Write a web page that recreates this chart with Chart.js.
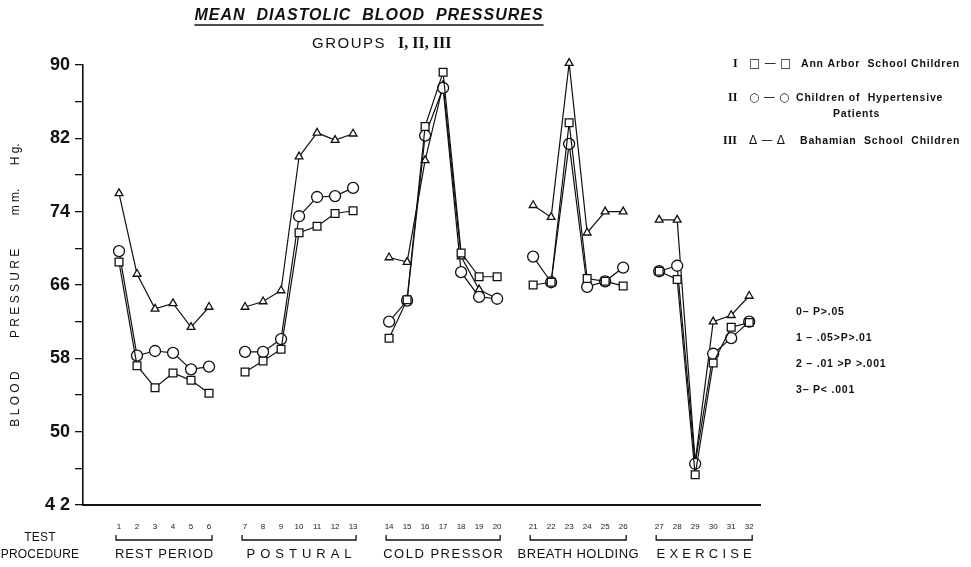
<!DOCTYPE html>
<html>
<head>
<meta charset="utf-8">
<script src="https://cdn.jsdelivr.net/npm/chart.js@4.4.1/dist/chart.umd.min.js"></script>
<style>
html,body{margin:0;padding:0;background:#fff;}
#wrap{width:971px;height:567px;position:relative;}
</style>
</head>
<body>
<div id="wrap"><canvas id="c" width="971" height="567"></canvas></div>
<script>
// ---- data ----
const groupNames = ['REST PERIOD', 'POSTURAL', 'COLD PRESSOR', 'BREATH HOLDING', 'EXERCISE'];
const groupSizes = [6, 7, 7, 6, 6];
const testLabels = ['1','2','3','4','5','6','7','8','9','10','11','12','13','14','15','16','17','18','19','20','21','22','23','24','25','26','27','28','29','30','31','32'];
const yTicks = [42, 50, 58, 66, 74, 82, 90];

const annArbor = [68.5, 57.2, 54.8, 56.4, 55.6, 54.2,
                  56.5, 57.7, 59.0, 71.7, 72.4, 73.8, 74.1,
                  60.2, 64.4, 83.3, 89.2, 69.5, 66.9, 66.9,
                  66.0, 66.3, 83.7, 66.7, 66.4, 65.9,
                  67.5, 66.6, 45.3, 57.5, 61.4, 61.9];
const hypertensive = [69.7, 58.3, 58.8, 58.6, 56.8, 57.1,
                      58.7, 58.7, 60.1, 73.5, 75.6, 75.7, 76.6,
                      62.0, 64.3, 82.3, 87.5, 67.4, 64.7, 64.5,
                      69.1, 66.3, 81.4, 65.8, 66.4, 67.9,
                      67.5, 68.1, 46.5, 58.5, 60.2, 62.0];
const bahamian = [76.0, 67.2, 63.4, 64.0, 61.4, 63.6,
                  63.6, 64.2, 65.4, 80.0, 82.6, 81.8, 82.5,
                  69.0, 68.5, 79.6, 87.8, 69.1, 65.5, 64.5,
                  74.7, 73.4, 90.2, 71.7, 74.0, 74.0,
                  73.1, 73.1, 46.7, 62.0, 62.7, 64.8];

// ---- build x positions (one empty slot between groups) ----
const positions = [];
const groupRanges = [];
{
  let k = 0;
  groupSizes.forEach((n, g) => {
    const start = k;
    for (let i = 0; i < n; i++) { positions.push(k + g + 1); k++; }
    groupRanges.push([positions[start], positions[k - 1]]);
  });
}
const labelAt = {};
positions.forEach((p, i) => labelAt[p] = testLabels[i]);

function series(values) {
  const out = [];
  let k = 0;
  groupSizes.forEach((n, g) => {
    for (let i = 0; i < n; i++) { out.push({x: positions[k], y: values[k]}); k++; }
    if (g < groupSizes.length - 1) out.push({x: positions[k - 1] + 1, y: null});
  });
  return out;
}

const baseDs = {
  borderColor: '#111', borderWidth: 1.2, backgroundColor: '#fff',
  pointBackgroundColor: '#fff', pointBorderColor: '#111', pointBorderWidth: 1.3,
  spanGaps: false, tension: 0, clip: false
};

const overlay = {
  id: 'overlay',
  afterDraw(chart) {
    const ctx = chart.ctx;
    const xs = chart.scales.x;
    const area = chart.chartArea;
    ctx.save();
    ctx.fillStyle = '#111';
    ctx.strokeStyle = '#111';
    ctx.textBaseline = 'alphabetic';

    // Title
    ctx.font = 'italic bold 16px "Liberation Sans", Arial, sans-serif';
    ctx.letterSpacing = '1px';
    ctx.textAlign = 'center';
    const t = 'MEAN  DIASTOLIC  BLOOD  PRESSURES';
    ctx.fillText(t, 369, 20);
    const tw = ctx.measureText(t).width;
    ctx.lineWidth = 1.3;
    ctx.beginPath(); ctx.moveTo(369 - tw / 2, 25); ctx.lineTo(369 + tw / 2, 25); ctx.stroke();
    ctx.font = '15px "Liberation Sans", Arial, sans-serif';
    ctx.letterSpacing = '1.5px';
    ctx.textAlign = 'left';
    ctx.fillText('GROUPS', 312, 48);
    ctx.font = 'bold 16px "Liberation Serif", serif';
    ctx.letterSpacing = '0px';
    ctx.fillText('I, II, III', 398, 48);

    // Legend (text)
    ctx.textAlign = 'left';
    ctx.font = 'bold 12px "Liberation Serif", serif';
    ctx.letterSpacing = '0px';
    ctx.fillText('I', 733, 67);
    ctx.fillText('II', 728, 101);
    ctx.fillText('III', 723, 144);
    ctx.font = '12px "DejaVu Sans", sans-serif';
    ctx.fillText('\u25A1 \u2014 \u25A1', 749, 67);
    ctx.fillText('\u25CB \u2014 \u25CB', 749, 101);
    ctx.fillText('\u0394 \u2014 \u0394', 749, 144);
    ctx.font = 'bold 10.5px "Liberation Sans", Arial, sans-serif';
    ctx.letterSpacing = '0.8px';
    ctx.fillText('Ann Arbor  School Children', 801, 67);
    ctx.fillText('Children of  Hypertensive', 796, 101);
    ctx.fillText('Patients', 833, 117);
    ctx.fillText('Bahamian  School  Children', 800, 144);

    // P-value key
    ctx.font = 'bold 10.5px "Liberation Sans", Arial, sans-serif';
    ctx.letterSpacing = '0.8px';
    ctx.fillText('0\u2013 P>.05', 796, 315);
    ctx.fillText('1 \u2013 .05>P>.01', 796, 341);
    ctx.fillText('2 \u2013 .01 >P >.001', 796, 367);
    ctx.fillText('3\u2013 P< .001', 796, 393);

    // Test procedure labels
    ctx.font = '12px "Liberation Sans", Arial, sans-serif';
    ctx.letterSpacing = '0.2px';
    ctx.textAlign = 'center';
    ctx.fillText('TEST', 40, 541);
    ctx.fillText('PROCEDURE', 40, 558);

    // Brackets and group names
    const spacing = [1, 5, 1.5, 0.5, 4.2];
    ctx.lineWidth = 1.3;
    groupRanges.forEach((r, g) => {
      const x0 = xs.getPixelForValue(r[0]) - 3;
      const x1 = xs.getPixelForValue(r[1]) + 3;
      const yb = area.bottom + 35;
      ctx.beginPath();
      ctx.moveTo(x0, yb - 5); ctx.lineTo(x0, yb); ctx.lineTo(x1, yb); ctx.lineTo(x1, yb - 5);
      ctx.stroke();
      ctx.font = '13px "Liberation Sans", Arial, sans-serif';
      ctx.letterSpacing = spacing[g] + 'px';
      ctx.fillText(groupNames[g], (x0 + x1) / 2 + spacing[g] / 2, area.bottom + 53);
    });
    ctx.restore();
  }
};

new Chart(document.getElementById('c'), {
  type: 'line',
  data: {
    datasets: [
      Object.assign({}, baseDs, {label: 'I Ann Arbor School Children', data: series(annArbor), pointStyle: 'rect', pointRadius: 5.5}),
      Object.assign({}, baseDs, {label: 'II Children of Hypertensive Patients', data: series(hypertensive), pointStyle: 'circle', pointRadius: 5.5}),
      Object.assign({}, baseDs, {label: 'III Bahamian School Children', data: series(bahamian), pointStyle: 'triangle', pointRadius: 4.5})
    ]
  },
  options: {
    responsive: false,
    animation: false,
    layout: {padding: {top: 65, right: 211, bottom: 0, left: 0}},
    plugins: {legend: {display: false}, tooltip: {enabled: false}, title: {display: false}},
    scales: {
      x: {
        type: 'linear', min: -1, max: 36.6,
        afterBuildTicks: s => { s.ticks = positions.map(v => ({value: v})); },
        afterFit: s => { s.height = 62; },
        grid: {display: false},
        border: {display: true, color: '#111', width: 2},
        ticks: {
          autoSkip: false, maxRotation: 0, padding: 9, color: '#222',
          font: {family: '"Liberation Sans", Arial, sans-serif', size: 8},
          callback: v => labelAt[v] || ''
        }
      },
      y: {
        type: 'linear', min: 42, max: 90,
        afterBuildTicks: s => {
          const t = [];
          for (let v = 42; v <= 90; v += 4) t.push({value: v});
          s.ticks = t;
        },
        afterFit: s => { s.width = 83; },
        grid: {display: true, drawOnChartArea: false, drawTicks: true, tickLength: 8, color: '#111', lineWidth: 1.3},
        border: {display: true, color: '#111', width: 1.6},
        ticks: {
          padding: 5, color: '#111',
          font: {family: '"Liberation Sans", Arial, sans-serif', size: 18, weight: 'bold'},
          callback: v => yTicks.includes(v) ? (v === 42 ? '4 2' : String(v)) : ''
        },
        title: {
          display: true, text: 'B L O O D          P R E S S U R E          m m.       H g.',
          color: '#111', padding: {top: 8, bottom: 0},
          font: {family: '"Liberation Sans", Arial, sans-serif', size: 12}
        }
      }
    }
  },
  plugins: [overlay]
});
</script>
</body>
</html>
